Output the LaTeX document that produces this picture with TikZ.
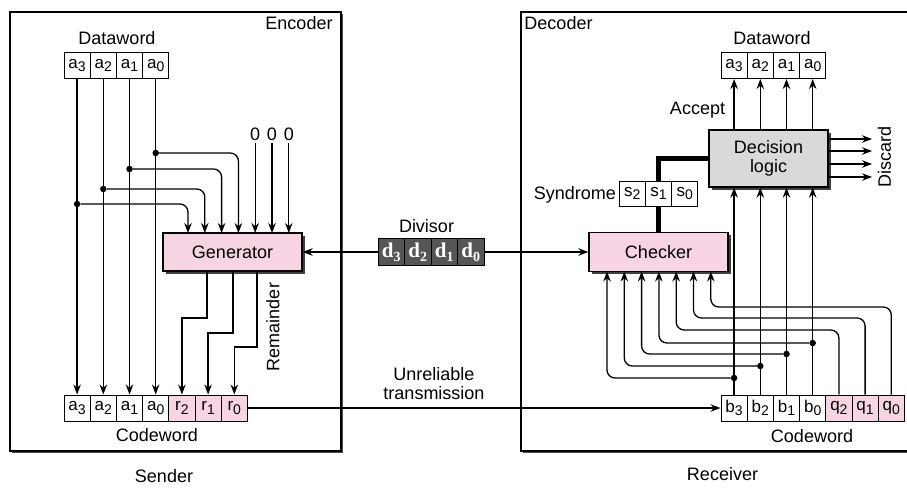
\documentclass[tikz,border=0pt]{standalone}
\usepackage{fontspec}
\setmainfont{Liberation Sans}
\newfontfamily\divfont{Liberation Serif}
\usetikzlibrary{positioning, arrows.meta, shadows}
\definecolor{pinkbox}{RGB}{247,212,227}
\definecolor{greybox}{RGB}{217,217,217}
\definecolor{divgrey}{RGB}{85,85,85}
\newcommand{\lowd}[1]{\raisebox{-0.4ex}{\fontsize{14}{14}\selectfont #1}}

\tikzset
{
    >={Stealth[length=10pt, width=7.5pt]},
    wire/.style={line width=1.3pt},
    cell/.style={draw, line width=1pt, fill=white, minimum width=26.2pt, minimum height=26pt, inner sep=0pt, font=\fontsize{17}{17}\selectfont},
    rcell/.style={cell, fill=pinkbox},
    dvcell/.style={cell, fill=divgrey, text=white, font=\divfont\bfseries\fontsize{21}{21}\selectfont, minimum width=26.5pt, minimum height=27pt},
    block/.style={draw, line width=1.3pt, fill=pinkbox, minimum width=139pt, minimum height=38pt, font=\fontsize{18}{19}\selectfont, drop shadow={shadow xshift=2.5pt, shadow yshift=-2.5pt, fill=black!75, opacity=1}},
    boxframe/.style={draw, line width=1.5pt, fill=white, drop shadow={shadow xshift=1.8pt, shadow yshift=-1.8pt, fill=black!70, opacity=1}},
    tap/.style={circle, fill, inner sep=0pt, minimum size=6.5pt},
    lbl/.style={font=\fontsize{18}{19}\selectfont, inner sep=0pt},
}

\begin{document}
\begin{tikzpicture}[x=1pt, y=-1pt]
    \useasboundingbox (0,0) rectangle (907,487);

    % Frames
    \begin{scope}
        \clip (0,0) rectangle (907,487);
        \draw[boxframe] (10,12) rectangle (341,451);
        \draw[boxframe] (521,12) rectangle (930,451);
    \end{scope}
    \node[lbl, anchor=base] (enc) at (299,30) {Encoder};
    \node[lbl, anchor=base] (deco) at (558.5,30) {Decoder};
    \node[lbl, anchor=base] (snd) at (164,482) {Sender};
    \node[lbl, anchor=base] (rcv) at (722.5,480) {Receiver};

    % Sender: dataword, generator, codeword
    \node[lbl, anchor=base] (sdw) at (117,44.5) {Dataword};
    \node[cell] (sa3) at (77.1,65.5) {a\lowd{3}};
    \node[cell] (sa2) at (103.3,65.5) {a\lowd{2}};
    \node[cell] (sa1) at (129.5,65.5) {a\lowd{1}};
    \node[cell] (sa0) at (155.7,65.5) {a\lowd{0}};

    \node[block] (gen) at (232.5,252) {Generator};

    \node[cell] (ca3) at (77.1,408) {a\lowd{3}};
    \node[cell] (ca2) at (103.3,408) {a\lowd{2}};
    \node[cell] (ca1) at (129.5,408) {a\lowd{1}};
    \node[cell] (ca0) at (155.7,408) {a\lowd{0}};
    \node[rcell] (cr2) at (181.9,408) {r\lowd{2}};
    \node[rcell] (cr1) at (208.1,408) {r\lowd{1}};
    \node[rcell] (cr0) at (234.3,408) {r\lowd{0}};
    \node[lbl, anchor=base] (scw) at (157,441) {Codeword};

    \draw[wire, ->] (sa3) -- (ca3);
    \draw[wire, ->] (sa2) -- (ca2);
    \draw[wire, ->] (sa1) -- (ca1);
    \draw[wire, ->] (sa0) -- (ca0);

    % Taps into the generator
    \node[tap] (ta3) at (77.1,204) {};
    \node[tap] (ta2) at (103.3,189) {};
    \node[tap] (ta1) at (129.5,169) {};
    \node[tap] (ta0) at (155.7,153) {};
    \coordinate (gi1) at (188,233);
    \coordinate (gi2) at (204.8,233);
    \coordinate (gi3) at (221.6,233);
    \coordinate (gi4) at (238.4,233);
    \coordinate (gi5) at (255.2,233);
    \coordinate (gi6) at (272,233);
    \coordinate (gi7) at (288.8,233);
    \draw[wire, ->, rounded corners=8pt] (ta3) -| (gi1);
    \draw[wire, ->, rounded corners=8pt] (ta2) -| (gi2);
    \draw[wire, ->, rounded corners=8pt] (ta1) -| (gi3);
    \draw[wire, ->, rounded corners=8pt] (ta0) -| (gi4);

    \node[lbl, inner sep=3pt, anchor=base] (z1) at (255.2,140) {0};
    \node[lbl, inner sep=3pt, anchor=base] (z2) at (272,140) {0};
    \node[lbl, inner sep=3pt, anchor=base] (z3) at (288.8,140) {0};
    \draw[wire, ->] (z1) -- (gi5);
    \draw[wire, ->] (z2) -- (gi6);
    \draw[wire, ->] (z3) -- (gi7);

    % Remainder
    \coordinate (go2) at (207,271);
    \coordinate (go1) at (233,271);
    \coordinate (go0) at (257,271);
    \draw[wire, ->] (go2) -- (207,318) -| (cr2);
    \draw[wire, ->] (go1) -- (233,333) -| (cr1);
    \draw[wire, ->] (go0) -- (257,347) -| (cr0);
    \node[lbl, rotate=90] (rem) at (273,327) {Remainder};

    % Receiver: decision logic, checker, codeword
    \node[lbl, anchor=base] (rdw) at (772,44.5) {Dataword};
    \node[cell] (ra3) at (734.1,65.5) {a\lowd{3}};
    \node[cell] (ra2) at (760.3,65.5) {a\lowd{2}};
    \node[cell] (ra1) at (786.5,65.5) {a\lowd{1}};
    \node[cell] (ra0) at (812.7,65.5) {a\lowd{0}};

    \node[block, fill=greybox, minimum width=119pt, minimum height=57pt, align=center] (dec) at (768.5,158.5) {Decision\\logic};
    \node[lbl, anchor=base] (acc) at (697.5,114) {Accept};
    \draw[wire, ->] (ra3 |- dec.north) -- (ra3);
    \draw[wire, ->] (ra2 |- dec.north) -- (ra2);
    \draw[wire, ->] (ra1 |- dec.north) -- (ra1);
    \draw[wire, ->] (ra0 |- dec.north) -- (ra0);

    \coordinate (ds1) at (872,139);
    \coordinate (ds2) at (872,151);
    \coordinate (ds3) at (872,164);
    \coordinate (ds4) at (872,177);
    \draw[wire, ->] (dec.east |- ds1) -- (ds1);
    \draw[wire, ->] (dec.east |- ds2) -- (ds2);
    \draw[wire, ->] (dec.east |- ds3) -- (ds3);
    \draw[wire, ->] (dec.east |- ds4) -- (ds4);
    \node[lbl, rotate=90] (dsc) at (884.5,156.5) {Discard};

    \node[block, minimum height=39pt] (chk) at (658.5,252) {Checker};
    \draw[line width=5.5pt] (chk.north) |- (dec.west);
    \node[lbl, anchor=base east] (syn) at (616,199) {Syndrome};
    \node[cell, minimum height=25pt] (sy2) at (632.2,193.5) {s\lowd{2}};
    \node[cell, minimum height=25pt] (sy1) at (658.5,193.5) {s\lowd{1}};
    \node[cell, minimum height=25pt] (sy0) at (684.8,193.5) {s\lowd{0}};

    \node[cell] (cb3) at (734.1,408) {b\lowd{3}};
    \node[cell] (cb2) at (760.3,408) {b\lowd{2}};
    \node[cell] (cb1) at (786.5,408) {b\lowd{1}};
    \node[cell] (cb0) at (812.7,408) {b\lowd{0}};
    \node[rcell] (cq2) at (838.9,408) {q\lowd{2}};
    \node[rcell] (cq1) at (865.1,408) {q\lowd{1}};
    \node[rcell] (cq0) at (891.3,408) {q\lowd{0}};
    \node[lbl, anchor=base] (rcw) at (812,442) {Codeword};

    \draw[wire, ->] (cb3) -- (cb3 |- dec.south);
    \draw[wire, ->] (cb2) -- (cb2 |- dec.south);
    \draw[wire, ->] (cb1) -- (cb1 |- dec.south);
    \draw[wire, ->] (cb0) -- (cb0 |- dec.south);

    % Taps into the checker
    \node[tap] (tb3) at (734.1,378) {};
    \node[tap] (tb2) at (760.3,366) {};
    \node[tap] (tb1) at (786.5,354) {};
    \node[tap] (tb0) at (812.7,343) {};
    \coordinate (ci1) at (607,271.5);
    \coordinate (ci2) at (624.3,271.5);
    \coordinate (ci3) at (641.6,271.5);
    \coordinate (ci4) at (658.9,271.5);
    \coordinate (ci5) at (676.2,271.5);
    \coordinate (ci6) at (693.5,271.5);
    \coordinate (ci7) at (710.8,271.5);
    \draw[wire, ->, rounded corners=8pt] (tb3) -| (ci1);
    \draw[wire, ->, rounded corners=8pt] (tb2) -| (ci2);
    \draw[wire, ->, rounded corners=8pt] (tb1) -| (ci3);
    \draw[wire, ->, rounded corners=8pt] (tb0) -| (ci4);
    \draw[wire, ->, rounded corners=8pt] (cq2) -- (cq2 |- 0,330) -| (ci5);
    \draw[wire, ->, rounded corners=8pt] (cq1) -- (cq1 |- 0,318) -| (ci6);
    \draw[wire, ->, rounded corners=8pt] (cq0) -- (cq0 |- 0,307) -| (ci7);

    % Divisor and channel
    \node[lbl, anchor=base] (dvl) at (426.5,232) {Divisor};
    \draw[wire, line width=2pt, <->] (gen) -- (chk);
    \node[dvcell] (dv3) at (391.25,252) {d\lowd{3}};
    \node[dvcell] (dv2) at (417.75,252) {d\lowd{2}};
    \node[dvcell] (dv1) at (444.25,252) {d\lowd{1}};
    \node[dvcell] (dv0) at (470.75,252) {d\lowd{0}};

    \node[lbl, align=center] (unr) at (434,384) {Unreliable\\transmission};
    \draw[wire, line width=2pt, ->] (cr0) -- (cb3);
\end{tikzpicture}
\end{document}
